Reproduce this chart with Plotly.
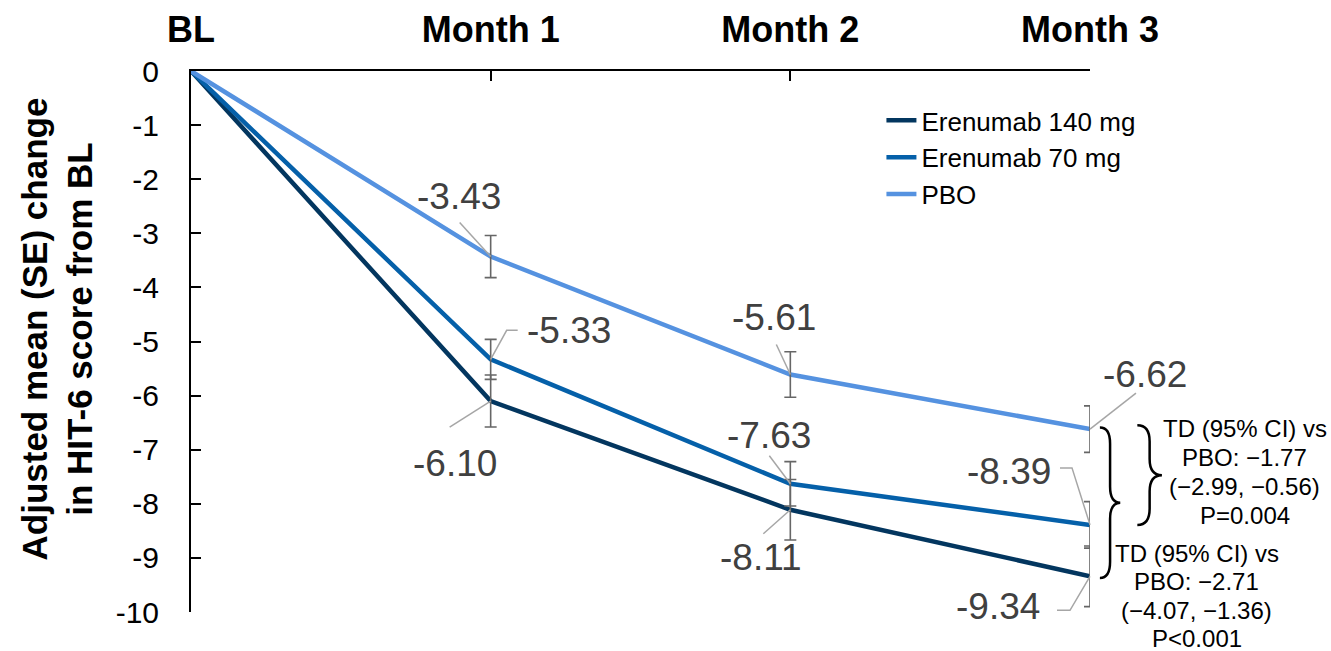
import plotly.graph_objects as go

# Visits and adjusted mean change (SE) in HIT-6 score from baseline
visits = ["BL", "Month 1", "Month 2", "Month 3"]
visit_pos = [0, 1, 2, 3]

series_names = ["Erenumab 140 mg", "Erenumab 70 mg", "PBO"]
mean_140 = [0.0, -6.10, -8.11, -9.34]
mean_70 = [0.0, -5.33, -7.63, -8.39]
mean_pbo = [0.0, -3.43, -5.61, -6.62]
se_140 = [0.48, 0.56, 0.56]
se_70 = [0.37, 0.41, 0.43]
se_pbo = [0.39, 0.42, 0.43]

y_ticks = list(range(0, -11, -1))
y_tick_text = [str(v) for v in y_ticks]

y_title = "Adjusted mean (SE) change<br>in HIT-6 score from BL"
td_70_lines = ["TD (95% CI) vs", "PBO: \u22121.77", "(\u22122.99, \u22120.56)", "P=0.004"]
td_140_lines = ["TD (95% CI) vs", "PBO: \u22122.71", "(\u22124.07, \u22121.36)", "P<0.001"]

colors = ["#03365f", "#0560a9", "#5592e0"]
means = [mean_140, mean_70, mean_pbo]
ses = [se_140, se_70, se_pbo]

X_RANGE = [0, 3]
Y_RANGE = [-10, 0]

FONT = "Liberation Sans, Arial, sans-serif"
LABEL_GREY = "#404040"
LEADER_GREY = "#a6a6a6"
ERR_GREY = "#666666"


def px_(x):
    """data x -> paper fraction (paper refs are not clipped to the plot area)"""
    return (x - X_RANGE[0]) / (X_RANGE[1] - X_RANGE[0])


def py_(y):
    return (y - Y_RANGE[0]) / (Y_RANGE[1] - Y_RANGE[0])


fig = go.Figure()

for name, m, c in zip(series_names, means, colors):
    fig.add_trace(go.Scatter(
        x=visit_pos, y=m, mode="lines", name=name,
        line=dict(color=c, width=4.5), cliponaxis=False,
    ))

for m, s in zip(means, ses):
    fig.add_trace(go.Scatter(
        x=visit_pos[1:], y=m[1:], mode="markers", showlegend=False,
        marker=dict(size=1, color="rgba(0,0,0,0)"),
        error_y=dict(type="data", array=s, visible=True,
                     color=ERR_GREY, thickness=1.6, width=6),
        cliponaxis=False, hoverinfo="skip",
    ))

# Value labels: (label offset dx, dy in px, leader polyline in px relative to the point)
label_layout = {
    (0, 1): ((-36, -62), [(0, 0), (-41, -26)]),
    (0, 2): ((-29, -48), [(0, 0), (-27, -24)]),
    (0, 3): ((-92, -30), [(0, 0), (-20, -34), (-33, -34)]),
    (1, 1): ((78, 29), [(0, 0), (16, 29), (27, 29)]),
    (1, 2): ((-21, 48), [(0, 0), (-21, 28)]),
    (1, 3): ((-81, 53), [(0, 0), (-18, 57), (-30, 57)]),
    (2, 1): ((-32, 60), [(0, 0), (-31, 34)]),
    (2, 2): ((-16, 57), [(0, 0), (-14, 30)]),
    (2, 3): ((55, 55), [(0, 0), (46, 36)]),
}

annotations = []
shapes = []
for (si, vi), ((dx, dy), pts) in label_layout.items():
    xv, yv = visit_pos[vi], means[si][vi]
    annotations.append(dict(
        x=xv, y=yv, xref="x", yref="y", text=f"{yv:.2f}", showarrow=False,
        xshift=dx, yshift=dy, xanchor="center", yanchor="middle",
        font=dict(family=FONT, size=37, color=LABEL_GREY),
    ))
    path = "M " + " L ".join(f"{a},{b}" for a, b in pts)
    shapes.append(dict(
        type="path", xref="paper", yref="paper", xsizemode="pixel", ysizemode="pixel",
        xanchor=px_(xv), yanchor=py_(yv), path=path,
        line=dict(color=LEADER_GREY, width=1.5),
    ))


def brace_path(x0, w, y_top, y_bot, r):
    xm, xt = px_(x0 + w / 2), px_(x0 + w)
    xs = px_(x0)
    ym = (y_top + y_bot) / 2
    yt, yb, ymid = py_(y_top), py_(y_bot), py_(ym)
    rr = r / (Y_RANGE[1] - Y_RANGE[0])
    return (f"M {xs},{yt} Q {xm},{yt} {xm},{yt - rr} "
            f"L {xm},{ymid + rr} Q {xm},{ymid} {xt},{ymid} "
            f"Q {xm},{ymid} {xm},{ymid - rr} "
            f"L {xm},{yb + rr} Q {xm},{yb} {xs},{yb}")


# Braces grouping the month-3 comparisons against placebo
shapes.append(dict(type="path", xref="paper", yref="paper",
                   path=brace_path(3.033, 0.068, mean_pbo[3] + 0.03, mean_140[3] - 0.03, 0.3),
                   line=dict(color="black", width=2.5)))
shapes.append(dict(type="path", xref="paper", yref="paper",
                   path=brace_path(3.158, 0.082, mean_pbo[3] + 0.07, mean_70[3], 0.3),
                   line=dict(color="black", width=2.5)))


def text_block(lines, x, y, spacing=29):
    n = len(lines)
    for i, line in enumerate(lines):
        annotations.append(dict(
            x=px_(x), y=py_(y), xref="paper", yref="paper", text=line,
            showarrow=False, xanchor="center", yanchor="middle",
            yshift=((n - 1) / 2 - i) * spacing,
            font=dict(family=FONT, size=24, color="black")))


text_block(td_70_lines, 3.517, -7.41)
text_block(td_140_lines, 3.357, -9.70, spacing=28.5)

# Y-axis title
annotations.append(dict(x=0, y=0.5, xref="paper", yref="paper", text=y_title,
                        showarrow=False, textangle=-90, xanchor="center", yanchor="middle",
                        xshift=-134, yshift=12, align="center",
                        font=dict(family=FONT, size=35, color="black", weight="bold")))

fig.update_layout(
    width=1331, height=651,
    margin=dict(l=191, r=241, t=71, b=39, autoexpand=False),
    paper_bgcolor="white", plot_bgcolor="white",
    font=dict(family=FONT, color="black"),
    showlegend=True,
    legend=dict(
        xref="paper", yref="paper", x=0.768, y=0.952,
        xanchor="left", yanchor="top",
        font=dict(family=FONT, size=26, color="black"),
        bgcolor="rgba(0,0,0,0)", itemwidth=30, tracegroupgap=0,
    ),
    annotations=annotations,
    shapes=shapes,
)

fig.update_xaxes(
    range=X_RANGE, side="top", tickmode="array", tickvals=visit_pos, ticktext=visits,
    showgrid=False, zeroline=False, showline=True, linecolor="black", linewidth=2,
    ticks="inside", ticklen=10, tickwidth=2, tickcolor="black",
    tickfont=dict(family=FONT, size=36, color="black", weight="bold"),
    ticklabelstandoff=13, automargin=False,
)
fig.update_yaxes(
    range=Y_RANGE, tickmode="array", tickvals=y_ticks, ticktext=y_tick_text,
    showgrid=False, zeroline=False, showline=True, linecolor="black", linewidth=2,
    ticks="inside", ticklen=10, tickwidth=2, tickcolor="black",
    tickfont=dict(family=FONT, size=30, color="black"),
    ticklabelstandoff=24, automargin=False,
)

fig.write_html("out.html")
